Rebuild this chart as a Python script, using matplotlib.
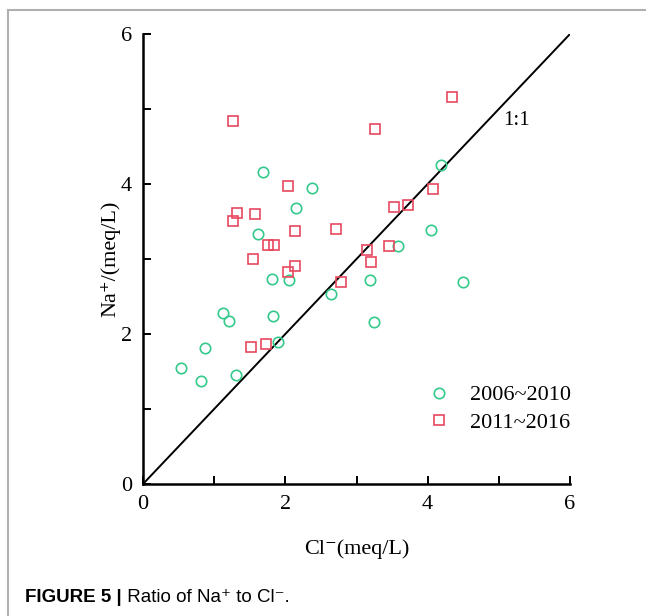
import numpy as np
import matplotlib
matplotlib.use('Agg')
import matplotlib.pyplot as plt
from matplotlib.lines import Line2D

# 2006~2010 (circles)
cl_0610 = [0.54, 0.82, 0.875, 1.12, 1.21, 1.30, 1.61, 1.68, 1.81, 1.82, 1.89,
           2.05, 2.15, 2.37, 2.64, 3.19, 3.24, 3.59, 4.04, 4.19, 4.49]
na_0610 = [1.55, 1.37, 1.82, 2.28, 2.17, 1.46, 3.33, 4.16, 2.73, 2.24, 1.90,
           2.72, 3.68, 3.95, 2.53, 2.72, 2.16, 3.17, 3.39, 4.25, 2.69]

# 2011~2016 (squares)
cl_1116 = [1.26, 1.27, 1.32, 1.52, 1.55, 1.57, 1.73, 1.75, 1.84, 2.04, 2.04, 2.13,
           2.14, 2.71, 2.78, 3.15, 3.21, 3.26, 3.46, 3.52, 3.73, 4.07, 4.34]
na_1116 = [4.84, 3.51, 3.62, 1.83, 3.00, 3.60, 1.87, 3.19, 3.19, 3.98, 2.83, 3.38,
           2.91, 3.40, 2.70, 3.12, 2.96, 4.73, 3.17, 3.69, 3.72, 3.93, 5.16]

ticks = [0, 1, 2, 3, 4, 5, 6]
tick_labels = ['0', '', '2', '', '4', '', '6']

green = '#35c98c'
red = '#e8485f'
serif = ['Liberation Serif', 'DejaVu Serif']

plt.rcParams['font.family'] = serif
plt.rcParams['font.size'] = 15

fig = plt.figure(figsize=(6.46, 6.16), dpi=100)
ax = fig.add_axes([143 / 646, 1 - 484 / 616, 427 / 646, 450 / 616])

ax.plot([0, 6], [0, 6], color='black', lw=1.4, zorder=1)
ax.plot(cl_0610, na_0610, 'o', ms=7.5, mfc='none', mec=green, mew=1.2,
        label='2006~2010', clip_on=False)
ax.plot(cl_1116, na_1116, 's', ms=7, mfc='none', mec=red, mew=1.2,
        label='2011~2016', clip_on=False)
ax.text(5.25, 4.85, '1:1', fontsize=15, ha='center', va='center')

ax.set_xlim(0, 6)
ax.set_ylim(0, 6)
ax.set_xticks(ticks)
ax.set_xticklabels(tick_labels)
ax.set_yticks(ticks)
ax.set_yticklabels(tick_labels)
ax.tick_params(direction='in', length=6, width=1.4, labelsize=16, pad=8)
for s in ['top', 'right']:
    ax.spines[s].set_visible(False)
for s in ['left', 'bottom']:
    ax.spines[s].set_linewidth(1.8)

ax.set_xlabel('Cl⁻(meq/L)', fontsize=16, labelpad=18)
ax.set_ylabel('Na⁺/(meq/L)', fontsize=16, labelpad=0)

ax.legend(loc='upper left', bbox_to_anchor=(0.615, 0.245), frameon=False,
          fontsize=16, handletextpad=0.4, labelspacing=0.3, borderpad=0)

# page frame
fig.add_artist(Line2D([8 / 646, 1], [1 - 10 / 616, 1 - 10 / 616], color='#b0b0b0', lw=1.5))
fig.add_artist(Line2D([8 / 646, 8 / 646], [0, 1 - 10 / 616], color='#b0b0b0', lw=1.5))

# caption
t1 = fig.text(25 / 646, 1 - 598 / 616, 'FIGURE 5 |', fontsize=13.5, fontweight='bold',
              family=['Liberation Sans', 'DejaVu Sans'], va='center')
ax.annotate(' Ratio of Na⁺ to Cl⁻.', xy=(1, 0.5), xycoords=t1, va='center',
            fontsize=13.5, family=['Liberation Sans', 'DejaVu Sans'], annotation_clip=False)

fig.savefig('out.png', dpi=100)
